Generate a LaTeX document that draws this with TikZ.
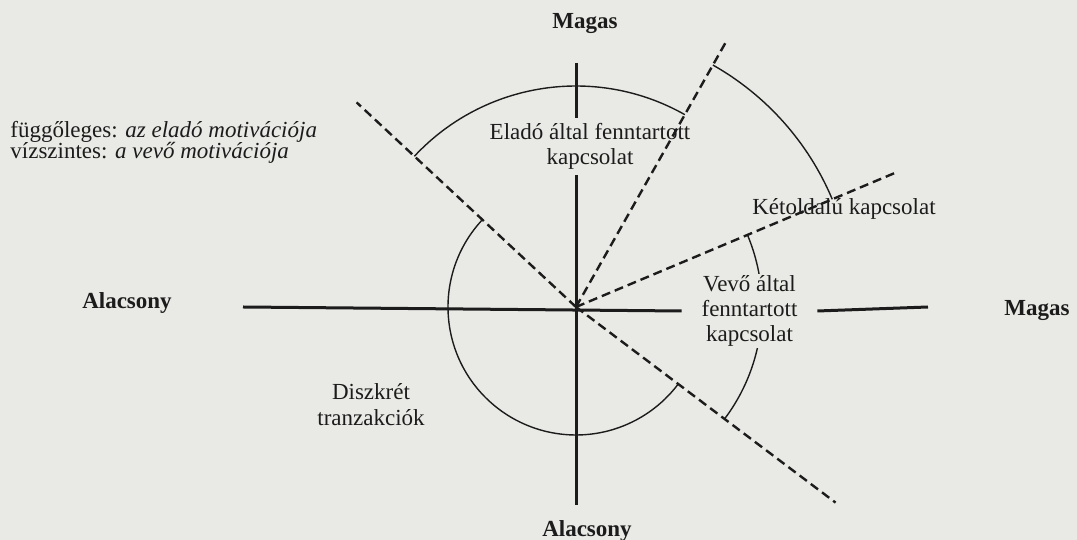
\documentclass[tikz,border=0pt]{standalone}
\usepackage{fontspec}
\setmainfont{Liberation Serif}
\usepackage{xcolor}
\usepackage{tikz}
\definecolor{mypaper}{RGB}{233,233,229}
\definecolor{myink}{RGB}{28,28,28}
\newcommand{\tightlines}{\lineskiplimit=-20pt\relax}
\tikzstyle{axisline} = [line width=1.5pt, myink]
\tikzstyle{dashline} = [line width=1.2pt, myink, dash pattern=on 4.5pt off 2.5pt]
\tikzstyle{arcline} = [line width=0.7pt, myink]
\tikzstyle{lbl} = [font=\fontsize{11.5}{12.5}\selectfont, text=myink, align=center, inner sep=0pt]
\tikzstyle{endlbl} = [font=\fontsize{11.5}{12.5}\selectfont\bfseries, text=myink, inner sep=0pt]

\begin{document}
\begin{tikzpicture}[x=0.5pt,y=0.5pt]
\useasboundingbox (0,0) rectangle (1077,540);
\fill[mypaper] (0,0) rectangle (1077,540);

% origin and axis ends
\coordinate (o) at (576,233);
\coordinate (west) at (243,233);
\coordinate (east) at (928,233);
\coordinate (north) at (576,477);
\coordinate (south) at (576,35);

% ends of the dashed rays
\path (o) ++(137:300) coordinate (rayul);
\path (o) ++(-37:325) coordinate (raylr);
\path (o) ++(60.5:308) coordinate (rayup);
\path (o) ++(22.8:346) coordinate (rayright);

% sector arcs
\draw[arcline] (o) ++(60.5:221) arc[start angle=60.5, end angle=137, radius=221];
\draw[arcline] (o) ++(22.8:278) arc[start angle=22.8, end angle=60.5, radius=278];
\draw[arcline] (o) ++(-37:186) arc[start angle=-37, end angle=22.8, radius=186];
\draw[arcline] (o) ++(137:128) arc[start angle=137, end angle=323, radius=128];

% sector labels
\node[lbl, minimum height=28.5pt] (elado) at (590,393.5) {Eladó által fenntartott\\kapcsolat};
\node[lbl, fill=mypaper, minimum width=67.5pt, inner ysep=1pt] (vevo) at (749.5,229) {Vevő által\\fenntartott\\kapcsolat};
\node[lbl, anchor=base] (ketoldalu) at (844,325) {Kétoldalú kapcsolat};
\node[lbl, font=\fontsize{11.5}{13}\selectfont] (diszkret) at (371,135) {Diszkrét\\tranzakciók};

% axes
\draw[axisline] (west) -- (vevo.west);
\draw[axisline] (vevo.east) -- (east);
\draw[axisline] (north) -- (elado.north -| north);
\draw[axisline] (elado.south -| north) -- (south);

% dashed rays
\draw[dashline] (o) -- (rayul);
\draw[dashline] (o) -- (raylr);
\draw[dashline] (o) -- (rayup);
\draw[dashline] (o) -- (rayright);

% axis ends
\node[endlbl, anchor=base] (magastop) at (585,511) {Magas};
\node[endlbl, anchor=base] (alacsonybottom) at (587,3) {Alacsony};
\node[endlbl, anchor=base] (alacsonyleft) at (127,231) {Alacsony};
\node[endlbl, anchor=base] (magasright) at (1037,224) {Magas};

% key
\node[lbl, align=left, anchor=west, font={\fontsize{11.5}{10.5}\selectfont\tightlines}] (legend) at (10,398) {függőleges: \textit{az eladó motivációja}\\vízszintes: \textit{a vevő motivációja}};
\end{tikzpicture}
\end{document}
